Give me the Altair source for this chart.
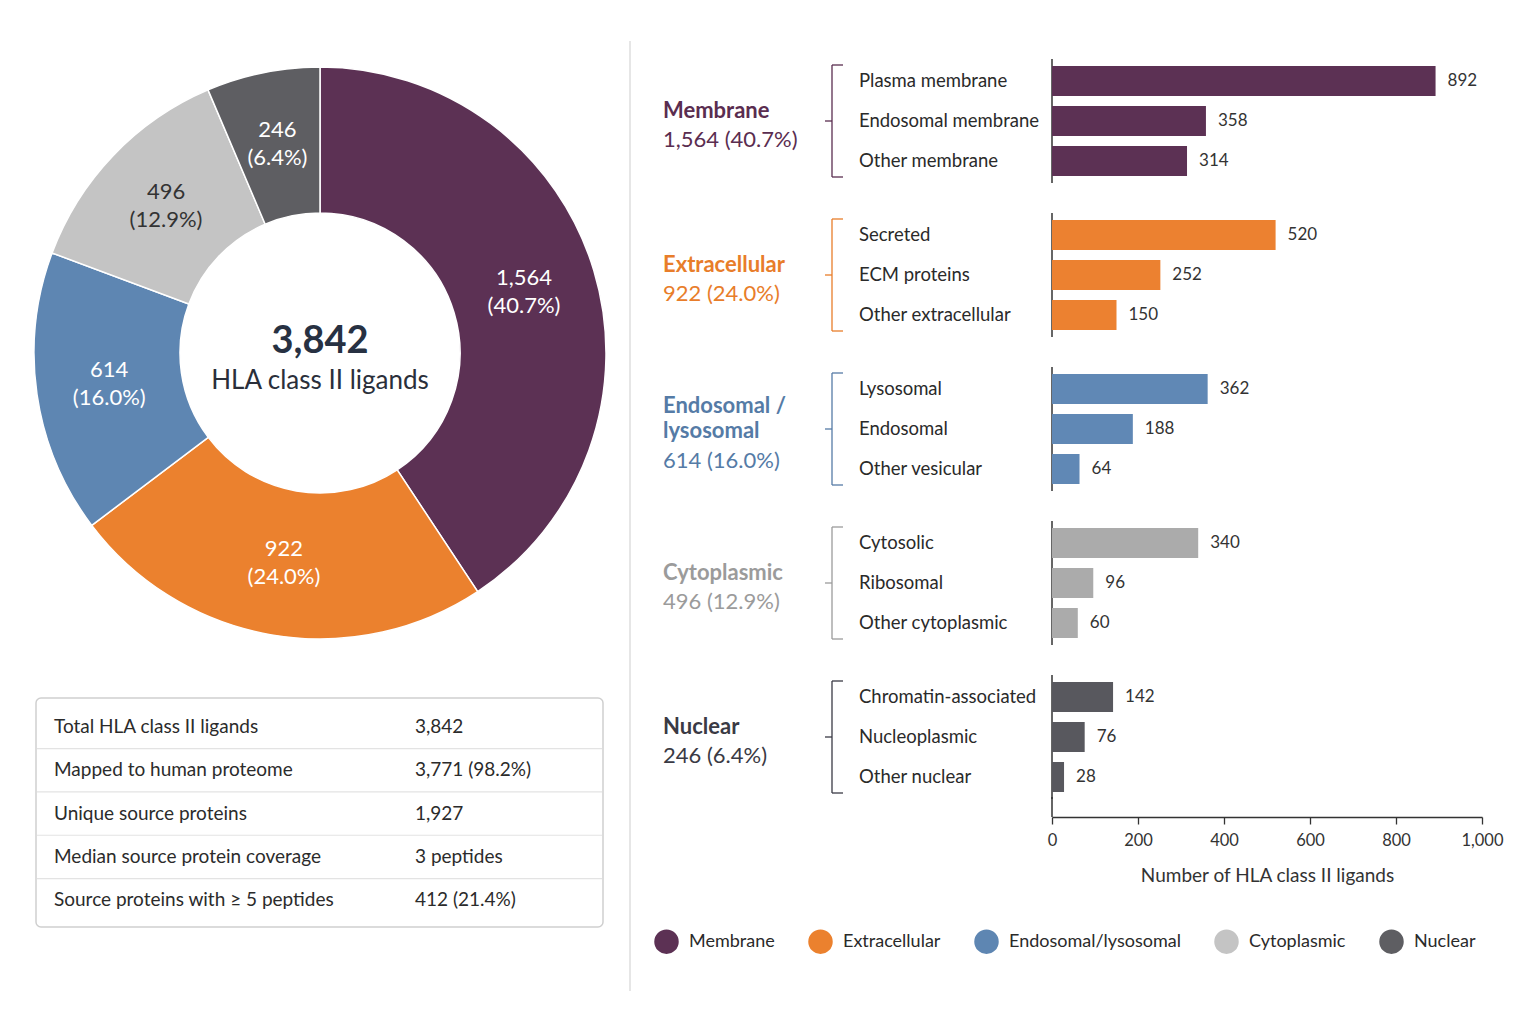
import altair as alt
import pandas as pd

FONT = "Lato"

# ---------------- data ----------------
groups = ["Membrane", "Extracellular", "Endosomal/lysosomal", "Cytoplasmic", "Nuclear"]
group_heads = [["Membrane"], ["Extracellular"], ["Endosomal /", "lysosomal"], ["Cytoplasmic"], ["Nuclear"]]
group_totals = [1564, 922, 614, 496, 246]
group_pcts = [40.7, 24.0, 16.0, 12.9, 6.4]
total_ligands = 3842
center_caption = "HLA class II ligands"

pie_colors = ["#5c3154", "#eb812e", "#5e86b2", "#c4c4c4", "#5e5e62"]
pie_text_colors = ["#ffffff", "#ffffff", "#ffffff", "#333333", "#ffffff"]
bar_colors = ["#5c3154", "#ec8130", "#6088b5", "#ababab", "#58585e"]
head_colors = ["#5a2d50", "#e87d2a", "#557ba6", "#9b9b9b", "#3a3a44"]

sub_names = [
    ["Plasma membrane", "Endosomal membrane", "Other membrane"],
    ["Secreted", "ECM proteins", "Other extracellular"],
    ["Lysosomal", "Endosomal", "Other vesicular"],
    ["Cytosolic", "Ribosomal", "Other cytoplasmic"],
    ["Chromatin-associated", "Nucleoplasmic", "Other nuclear"],
]
sub_values = [
    [892, 358, 314],
    [520, 252, 150],
    [362, 188, 64],
    [340, 96, 60],
    [142, 76, 28],
]
x_ticks = [0, 200, 400, 600, 800, 1000]
x_title = "Number of HLA class II ligands"

table_labels = [
    "Total HLA class II ligands",
    "Mapped to human proteome",
    "Unique source proteins",
    "Median source protein coverage",
    "Source proteins with \u2265 5 peptides",
]
table_values = ["3,842", "3,771 (98.2%)", "1,927", "3 peptides", "412 (21.4%)"]

one = pd.DataFrame({"k": [0]})

# ================= LEFT VIEW: donut + table =================
LW, LH = 567, 932
CX, CY = 284, 294

pie_df = pd.DataFrame({
    "idx": list(range(len(groups))),
    "group": groups,
    "value": group_totals,
    "label": [f"{v:,}\n({p:.1f}%)" for v, p in zip(group_totals, group_pcts)],
    "tcol": pie_text_colors,
})
pbase = alt.Chart(pie_df).encode(
    theta=alt.Theta("value:Q", stack=True),
    order=alt.Order("idx:Q"),
)
arcs = pbase.mark_arc(innerRadius=140, outerRadius=286, stroke="white", strokeWidth=1.5).encode(
    color=alt.Color(
        "group:N",
        scale=alt.Scale(domain=groups, range=pie_colors),
        legend=alt.Legend(
            orient="none", legendX=618, legendY=870, direction="horizontal",
            title=None, symbolType="circle", symbolSize=600, symbolStrokeWidth=0,
            symbolOpacity=1, labelFontSize=18, labelColor="#2a2a2a", labelFont=FONT,
            columnPadding=33, labelOffset=10, labelLimit=300,
        ),
    ),
    x=alt.value(CX), y=alt.value(CY),
)
slice_labels = pbase.mark_text(
    radius=213, fontSize=22, lineBreak="\n", lineHeight=28, baseline="middle", align="center", dy=-14
).encode(
    text="label:N",
    color=alt.Color("tcol:N", scale=None),
    x=alt.value(CX), y=alt.value(CY),
)
center_df = pd.DataFrame({"big": [f"{total_ligands:,}"], "small": [center_caption]})
c_big = alt.Chart(center_df).mark_text(
    fontSize=38, fontWeight="bold", color="#273142", baseline="middle"
).encode(text="big:N", x=alt.value(CX), y=alt.value(CY - 11))
c_small = alt.Chart(center_df).mark_text(
    fontSize=26, color="#2a2f3a", baseline="middle"
).encode(text="small:N", x=alt.value(CX), y=alt.value(CY + 28))

# table: rows on a linear scale (one unit = one table row)
ROW_DOMAIN = [-15.427, 6.097]
BOX_TOP, BOX_BOTTOM = -0.67, 4.62
yscale_tab = alt.Scale(domain=ROW_DOMAIN, reverse=True, nice=False, zero=False)

tab_df = pd.DataFrame({"row": list(range(len(table_labels))), "label": table_labels, "val": table_values})
box_df = pd.DataFrame({"top": [BOX_TOP], "bottom": [BOX_BOTTOM]})
sep_rows = pd.DataFrame({"row": [r - 0.5 for r in range(1, len(table_labels))]})

t_box = alt.Chart(box_df).mark_rect(
    fill="white", stroke="#cfcfcf", strokeWidth=1.5, cornerRadius=5
).encode(
    y=alt.Y("top:Q", scale=yscale_tab, axis=None), y2="bottom:Q",
    x=alt.value(0), x2=alt.value(567),
)
t_rules = alt.Chart(sep_rows).mark_rule(color="#e3e3e3", strokeWidth=1.2).encode(
    y=alt.Y("row:Q", scale=yscale_tab, axis=None), x=alt.value(1), x2=alt.value(566),
)
t_lab = alt.Chart(tab_df).mark_text(align="left", baseline="middle", fontSize=19, color="#2b2b2b").encode(
    y=alt.Y("row:Q", scale=yscale_tab, axis=None), text="label:N", x=alt.value(18))
t_val = alt.Chart(tab_df).mark_text(align="left", baseline="middle", fontSize=19, color="#2b2b2b").encode(
    y=alt.Y("row:Q", scale=yscale_tab, axis=None), text="val:N", x=alt.value(379))

left_view = alt.layer(arcs, slice_labels, c_big, c_small, t_box, t_rules, t_lab, t_val).properties(
    width=LW, height=LH
)

# ================= SEPARATOR =================
sep = alt.Chart(one).mark_rule(color="#dedede", strokeWidth=1.5).encode(
    x=alt.value(0), y=alt.value(-18), y2=alt.value(932)
).properties(width=395, height=100)

# ================= RIGHT VIEW: grouped bars =================
RW, RH = 430, 758
rows = []
for g in range(len(groups)):
    for i, (s, v) in enumerate(zip(sub_names[g], sub_values[g])):
        rows.append({"group": groups[g], "item": i, "sub": s, "value": v, "bcol": bar_colors[g]})
bar_df = pd.DataFrame(rows)

head_df = pd.DataFrame({
    "group": groups,
    "head": ["\n".join(h) for h in group_heads],
    "nlines": [len(h) for h in group_heads],
    "count": [f"{t:,} ({p:.1f}%)" for t, p in zip(group_totals, group_pcts)],
    "hcol": head_colors,
})

yscale_g = alt.Scale(paddingInner=0.19481, paddingOuter=0.05844, align=0)


def Yg(bp=None):
    if bp is None:
        return alt.Y("group:N", sort=groups, scale=yscale_g, axis=None)
    return alt.Y("group:N", sort=groups, scale=yscale_g, axis=None, bandPosition=bp)


yoff = alt.YOffset("item:O", scale=alt.Scale(paddingInner=0.25, paddingOuter=0.175))
xenc = alt.X(
    "value:Q", scale=alt.Scale(domain=[0, 1000]),
    axis=alt.Axis(
        values=x_ticks, format=",.0f", tickSize=7, tickColor="#333333", tickWidth=1.3,
        domainColor="#333333", domainWidth=1.5, labelFontSize=16.5, labelColor="#333333",
        labelPadding=8, labelFlush=False, title=x_title, titleFontSize=19,
        titleFontWeight="normal", titleColor="#333333", titlePadding=18, grid=False,
        labelFont=FONT, titleFont=FONT,
    ),
)

bars = alt.Chart(bar_df).mark_bar().encode(
    x=xenc, y=Yg(), yOffset=yoff, color=alt.Color("bcol:N", scale=None))
vals = alt.Chart(bar_df).mark_text(align="left", baseline="middle", dx=12, fontSize=17,
                                   color="#333333").encode(
    x=alt.X("value:Q", scale=alt.Scale(domain=[0, 1000])), y=Yg(), yOffset=yoff, text="value:Q")
subs = alt.Chart(bar_df).mark_text(align="left", baseline="middle", fontSize=18.5,
                                   color="#2a2a2a").encode(
    x=alt.value(-193), y=Yg(), yOffset=yoff, text="sub:N")

heads1 = alt.Chart(head_df).transform_filter("datum.nlines == 1").mark_text(
    align="left", baseline="middle", fontSize=22, fontWeight="bold",
    lineBreak="\n", lineHeight=25, dy=-10,
).encode(y=Yg(), x=alt.value(-389), text="head:N", color=alt.Color("hcol:N", scale=None))
heads2 = alt.Chart(head_df).transform_filter("datum.nlines == 2").mark_text(
    align="left", baseline="middle", fontSize=22, fontWeight="bold",
    lineBreak="\n", lineHeight=25, dy=-23,
).encode(y=Yg(), x=alt.value(-389), text="head:N", color=alt.Color("hcol:N", scale=None))
count1 = alt.Chart(head_df).transform_filter("datum.nlines == 1").mark_text(
    align="left", baseline="middle", fontSize=22, dy=19,
).encode(y=Yg(), x=alt.value(-389), text="count:N", color=alt.Color("hcol:N", scale=None))
count2 = alt.Chart(head_df).transform_filter("datum.nlines == 2").mark_text(
    align="left", baseline="middle", fontSize=22, dy=32,
).encode(y=Yg(), x=alt.value(-389), text="count:N", color=alt.Color("hcol:N", scale=None))

# vertical axis segment for each group
axis_seg = alt.Chart(head_df).mark_bar(color="#333333").encode(
    y=Yg(), x=alt.value(-0.75), x2=alt.value(0.75))
axis_ext = alt.Chart(one).mark_rule(color="#333333", strokeWidth=1.5).encode(
    x=alt.value(0), y=alt.value(738), y2=alt.value(RH))

# brackets
br_v = alt.Chart(head_df).mark_bar(height=alt.RelativeBandSize(band=0.903)).encode(
    y=Yg(), x=alt.value(-220.65), x2=alt.value(-219.35), color=alt.Color("hcol:N", scale=None))
br_t = alt.Chart(head_df).mark_rule(strokeWidth=1.3, yOffset=6).encode(
    y=Yg(0), x=alt.value(-220), x2=alt.value(-209), color=alt.Color("hcol:N", scale=None))
br_b = alt.Chart(head_df).mark_rule(strokeWidth=1.3, yOffset=-6).encode(
    y=Yg(1), x=alt.value(-220), x2=alt.value(-209), color=alt.Color("hcol:N", scale=None))
br_m = alt.Chart(head_df).mark_rule(strokeWidth=1.3).encode(
    y=Yg(0.5), x=alt.value(-227), x2=alt.value(-220), color=alt.Color("hcol:N", scale=None))

right_view = alt.layer(
    axis_seg, axis_ext, bars, vals, subs, heads1, heads2, count1, count2, br_v, br_t, br_b, br_m
).properties(width=RW, height=RH)

chart = alt.hconcat(left_view, sep, right_view, spacing=27, bounds="flush").properties(
    padding={"left": 23, "top": 32, "right": 5, "bottom": 5}
).configure(font=FONT).configure_view(strokeWidth=0)

chart.save("out.html", embed_options={"renderer": "svg", "actions": False})
